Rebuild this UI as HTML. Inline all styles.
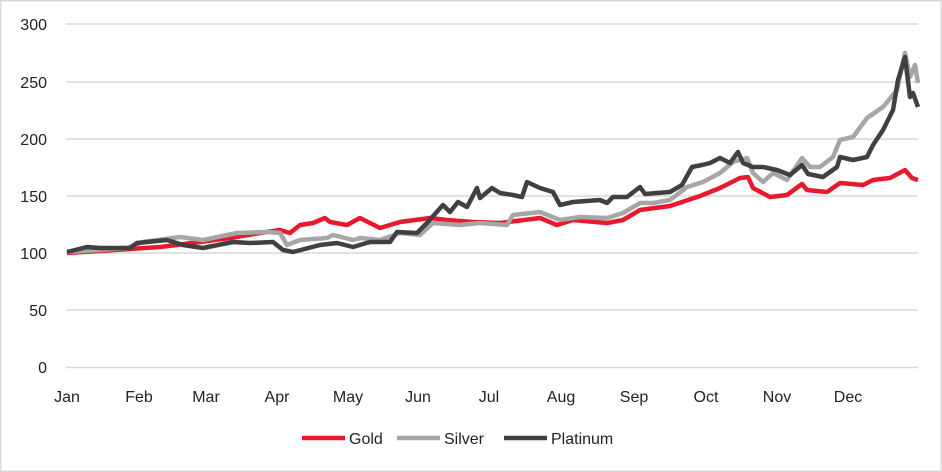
<!DOCTYPE html>
<html><head><meta charset="utf-8"><style>
html,body{margin:0;padding:0;background:#fff}
svg{display:block;font-family:"Liberation Sans",sans-serif}
</style></head><body>
<svg width="942" height="472" viewBox="0 0 942 472">
<rect x="0.5" y="0.5" width="941" height="471" fill="#fff" stroke="#d9d9d9" stroke-width="2"/>
<g stroke="#d9d9d9" stroke-width="1.5">
<line x1="66" x2="918" y1="24" y2="24"/><line x1="66" x2="918" y1="82" y2="82"/>
<line x1="66" x2="918" y1="139" y2="139"/><line x1="66" x2="918" y1="196" y2="196"/>
<line x1="66" x2="918" y1="253" y2="253"/><line x1="66" x2="918" y1="310" y2="310"/>
<line x1="66" x2="918" y1="367.5" y2="367.5"/>
</g>
<g font-size="16" fill="#222" text-anchor="end">
<text x="47" y="30">300</text><text x="47" y="88">250</text><text x="47" y="145">200</text>
<text x="47" y="202">150</text><text x="47" y="259">100</text><text x="47" y="316">50</text><text x="47" y="373">0</text>
</g>
<g font-size="16" fill="#222" text-anchor="middle">
<text x="67" y="402">Jan</text><text x="139" y="402">Feb</text><text x="206" y="402">Mar</text>
<text x="277" y="402">Apr</text><text x="348" y="402">May</text><text x="418" y="402">Jun</text>
<text x="489" y="402">Jul</text><text x="561" y="402">Aug</text><text x="634" y="402">Sep</text>
<text x="706" y="402">Oct</text><text x="777" y="402">Nov</text><text x="848" y="402">Dec</text>
</g>
<g fill="none" stroke-width="4.5" stroke-linejoin="round">
<polyline stroke="#e8192c" points="67,253 100,251 130,249 160,247 200,242 230,238 260,233 280,230 290,233 300,225 313,223 325,218 330,222 347,225 360,218 380,228 400,222 430,218 447,220 473,222 500,223 540,218 557,225 573,220 607,223 623,220 640,210 670,206 700,196 720,188 740,178 748,177 753,188 770,197 787,195 802,184 807,190 827,192 840,183 863,185 873,180 890,178 905,170 912,178 918,180"/>
<polyline stroke="#a6a6a6" points="67,252 100,250 127,248 143,242 180,237 203,240 237,233 267,232 280,233 287,245 300,240 327,238 333,235 353,240 360,238 380,240 400,233 420,235 433,223 460,225 480,223 507,225 513,215 540,212 560,220 580,217 607,218 623,213 640,203 653,203 670,200 687,187 703,182 720,173 733,162 747,158 753,173 763,182 773,173 787,180 802,158 810,167 820,167 833,157 840,140 853,137 867,118 883,107 897,90 905,53 910,77 915,65 918,83"/>
<polyline stroke="#404040" points="67,252 87,247 100,248 130,248 137,243 167,240 183,245 203,248 233,242 250,243 273,242 283,250 293,252 320,245 337,243 353,247 370,242 390,242 397,232 417,233 427,223 443,205 450,212 458,202 467,207 477,188 480,198 492,188 500,193 513,195 522,197 527,182 540,188 553,192 560,205 573,202 600,200 607,203 613,197 627,197 640,187 645,194 670,192 682,185 692,167 702,165 710,163 720,158 730,163 738,152 743,163 753,167 763,167 777,170 790,175 802,165 808,174 823,177 837,167 840,157 853,160 867,157 873,145 883,130 893,110 898,80 905,57 910,97 913,93 918,107"/>
</g>
<g stroke-width="4.5">
<line x1="302" x2="345" y1="438" y2="438" stroke="#e8192c"/>
<line x1="397" x2="440" y1="438" y2="438" stroke="#a6a6a6"/>
<line x1="504" x2="547" y1="438" y2="438" stroke="#404040"/>
</g>
<g font-size="16" fill="#222">
<text x="349" y="444">Gold</text><text x="444" y="444">Silver</text><text x="551" y="444">Platinum</text>
</g>
</svg>
</body></html>
